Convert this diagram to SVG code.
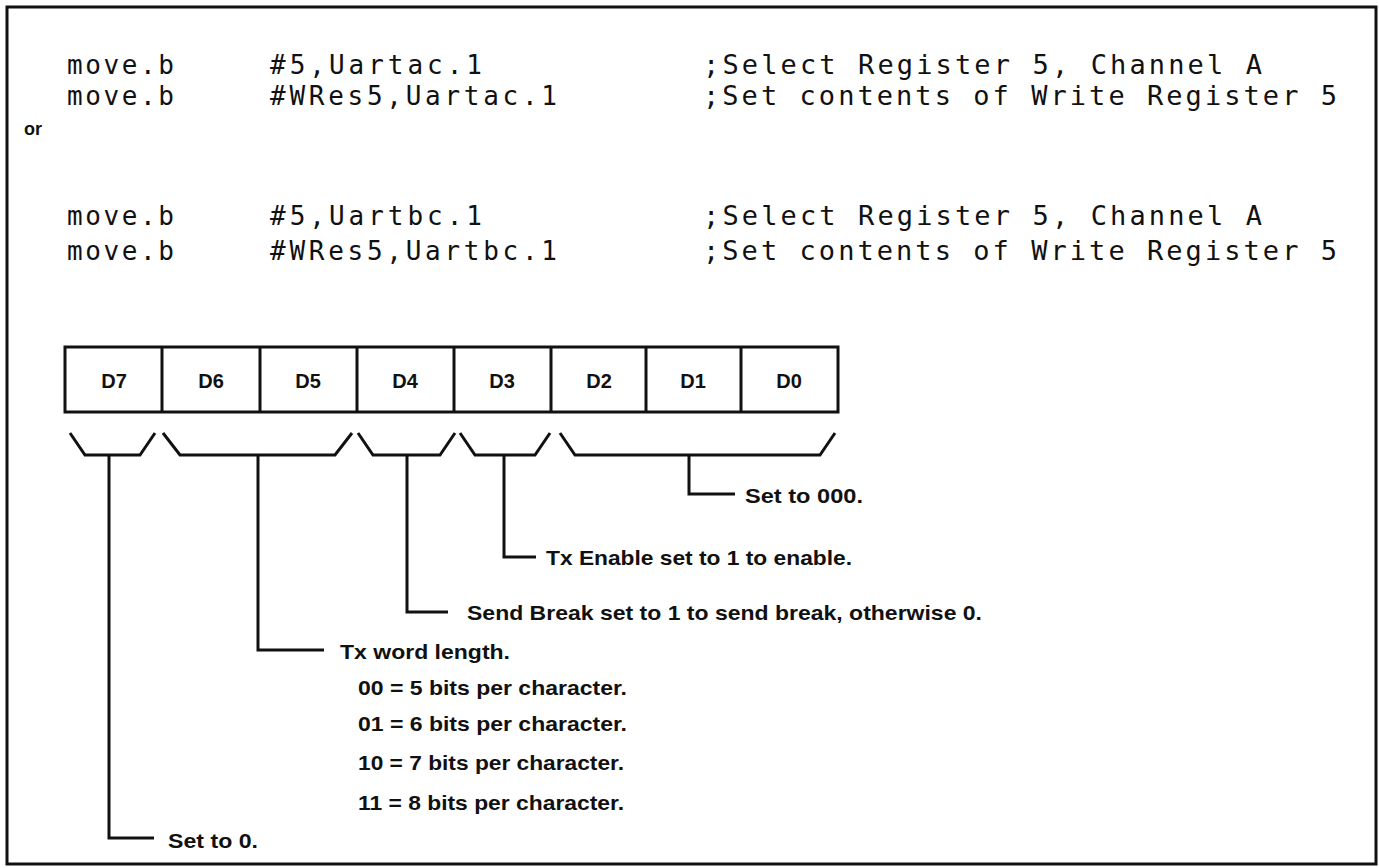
<svg xmlns="http://www.w3.org/2000/svg" width="1379" height="868" viewBox="0 0 1379 868">
<style>
.code{font-family:"DejaVu Sans Mono","Liberation Mono",monospace;font-size:26px;fill:#111}
.cmt{font-family:"DejaVu Sans Mono","Liberation Mono",monospace;font-size:27px;fill:#111}
.lbl{font-family:"Liberation Sans",Arial,sans-serif;font-weight:bold;font-size:21px;fill:#111}
.bit{font-family:"Liberation Sans",Arial,sans-serif;font-weight:bold;font-size:20px;fill:#111;text-anchor:middle}
.ln{fill:none;stroke:#111;stroke-width:3;stroke-linejoin:miter}
</style>
<rect x="0" y="0" width="1379" height="868" fill="#fff"/>
<rect x="7" y="7" width="1369" height="857" fill="none" stroke="#111" stroke-width="3"/>
<g id="code">
<text class="code" x="67" y="74" textLength="107" lengthAdjust="spacing">move.b</text>
<text class="code" x="270" y="74" textLength="212" lengthAdjust="spacing">#5,Uartac.1</text>
<text class="cmt" x="703" y="74" textLength="559" lengthAdjust="spacing">;Select Register 5, Channel A</text>
<text class="code" x="67" y="105" textLength="107" lengthAdjust="spacing">move.b</text>
<text class="code" x="270" y="105" textLength="287" lengthAdjust="spacing">#WRes5,Uartac.1</text>
<text class="cmt" x="703" y="105" textLength="634" lengthAdjust="spacing">;Set contents of Write Register 5</text>
<text class="lbl" x="24" y="135" style="font-size:18px">or</text>
<text class="code" x="67" y="225" textLength="107" lengthAdjust="spacing">move.b</text>
<text class="code" x="270" y="225" textLength="212" lengthAdjust="spacing">#5,Uartbc.1</text>
<text class="cmt" x="703" y="225" textLength="559" lengthAdjust="spacing">;Select Register 5, Channel A</text>
<text class="code" x="67" y="260" textLength="107" lengthAdjust="spacing">move.b</text>
<text class="code" x="270" y="260" textLength="287" lengthAdjust="spacing">#WRes5,Uartbc.1</text>
<text class="cmt" x="703" y="260" textLength="634" lengthAdjust="spacing">;Set contents of Write Register 5</text>
</g>
<g id="register">
<rect x="65" y="347" width="773" height="65" fill="#fff" stroke="#111" stroke-width="3"/>
<path class="ln" d="M162 347V412M260 347V412M357 347V412M454 347V412M551 347V412M646 347V412M741 347V412" stroke-width="2.5"/>
<text class="bit" x="114" y="388">D7</text>
<text class="bit" x="211" y="388">D6</text>
<text class="bit" x="308" y="388">D5</text>
<text class="bit" x="405" y="388">D4</text>
<text class="bit" x="502" y="388">D3</text>
<text class="bit" x="599" y="388">D2</text>
<text class="bit" x="693" y="388">D1</text>
<text class="bit" x="789" y="388">D0</text>
</g>
<g id="connectors">
<path class="ln" d="M70 433L85 455H140L155 433"/>
<path class="ln" d="M163 433L180 455H335L352 433"/>
<path class="ln" d="M358 433L373 455H440L455 433"/>
<path class="ln" d="M460 433L475 455H535L550 433"/>
<path class="ln" d="M560 433L575 455H820L835 433"/>
<path class="ln" d="M689 455V494H735"/>
<path class="ln" d="M504 455V557H536"/>
<path class="ln" d="M407 455V612H448"/>
<path class="ln" d="M258 455V650H324"/>
<path class="ln" d="M109 455V838H154"/>
</g>
<g id="d20"><text class="lbl" x="745" y="503" textLength="118" lengthAdjust="spacingAndGlyphs">Set to 000.</text></g>
<g id="d3"><text class="lbl" x="546" y="565" textLength="306" lengthAdjust="spacingAndGlyphs">Tx Enable set to 1 to enable.</text></g>
<g id="d4"><text class="lbl" x="467" y="620" textLength="515" lengthAdjust="spacingAndGlyphs">Send Break set to 1 to send break, otherwise 0.</text></g>
<g id="d65">
<text class="lbl" x="340" y="659" textLength="170" lengthAdjust="spacingAndGlyphs">Tx word length.</text>
<text class="lbl" x="358" y="695" textLength="269" lengthAdjust="spacingAndGlyphs">00 = 5 bits per character.</text>
<text class="lbl" x="358" y="731" textLength="269" lengthAdjust="spacingAndGlyphs">01 = 6 bits per character.</text>
<text class="lbl" x="358" y="770" textLength="266" lengthAdjust="spacingAndGlyphs">10 = 7 bits per character.</text>
<text class="lbl" x="358" y="810" textLength="266" lengthAdjust="spacingAndGlyphs">11 = 8 bits per character.</text>
</g>
<g id="d7"><text class="lbl" x="168" y="848" textLength="90" lengthAdjust="spacingAndGlyphs">Set to 0.</text></g>
</svg>
